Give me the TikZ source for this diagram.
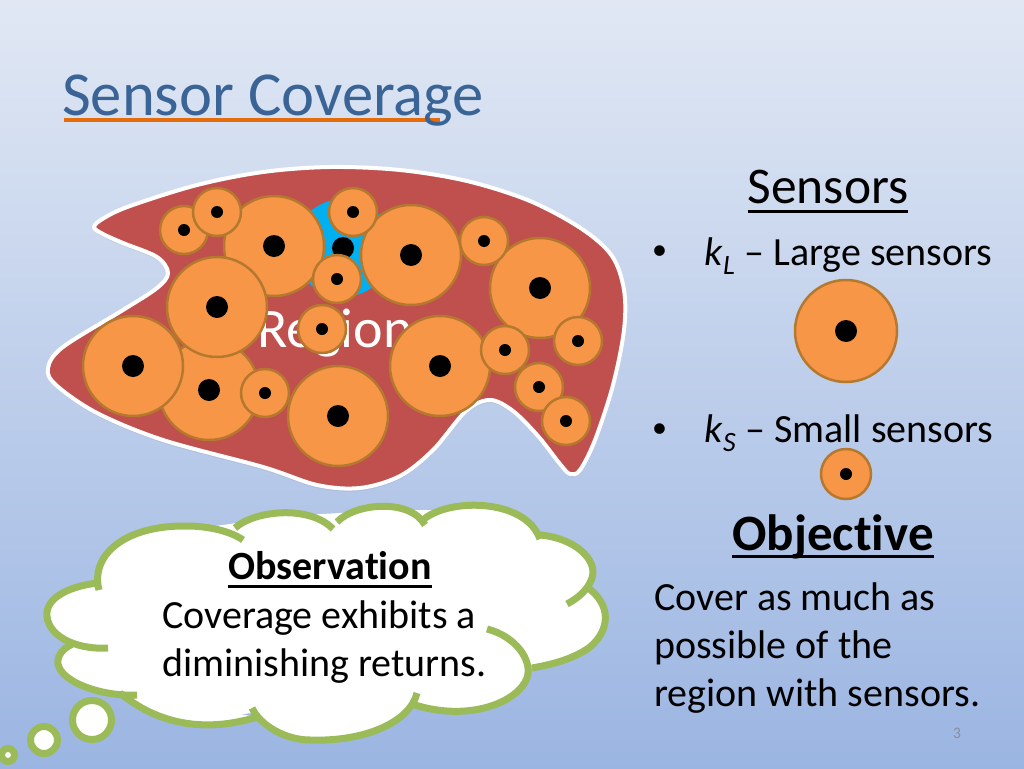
\documentclass[tikz,border=0pt]{standalone}
\usepackage{fontspec}
\setmainfont{Carlito}[Ligatures=NoCommon]
\usetikzlibrary{positioning}
\newcommand{\rulebelow}[2]{\vtop{\hbox{\smash{#2}}\kern#1\hrule height 2.8pt}}
\definecolor{bgtop}{HTML}{E1E8F4}
\definecolor{bgbottom}{HTML}{9BB5E2}
\definecolor{titleblue}{HTML}{3A6496}
\definecolor{titleline}{HTML}{E46C0A}
\definecolor{regionred}{HTML}{C0504D}
\definecolor{sensorfill}{HTML}{F79646}
\definecolor{sensorline}{HTML}{B5782F}
\definecolor{hiddenblue}{HTML}{00B0F0}
\definecolor{cloudgreen}{HTML}{9BBB59}

\begin{document}
\begin{tikzpicture}
	[x=1pt,y=-1pt,
	largesensor/.style={circle,draw=sensorline,fill=sensorfill,line width=2.5pt,inner sep=0pt,minimum size=100pt,
		label={[circle,fill=black,inner sep=0pt,minimum size=22pt]center:{}}},
	smallsensor/.style={circle,draw=sensorline,fill=sensorfill,line width=2.5pt,inner sep=0pt,minimum size=48pt,
		label={[circle,fill=black,inner sep=0pt,minimum size=12pt]center:{}}},
	bubblestyle/.style={circle,draw=cloudgreen,fill=white,line width=7pt,inner sep=0pt},
	bodytext/.style={inner sep=0pt,anchor=base west,font=\fontsize{40}{48}\selectfont,align=left,text=black},
	bulletstyle/.style={inner sep=0pt,anchor=base west,font=\fontsize{30}{48}\selectfont}
	]
	
	%Set params
	\def\gapbullet{37pt}
	\def\regionpath{plot[smooth cycle,tension=0.55] coordinates {
		(94,227) (104,218) (130,206) (197,185) (263,172) (330,167) (400,170) (467,181) (530,201) (582,229)
		(612,256) (624,290) (624,330) (613,385) (595,440) (580,470) (570,474) (560,464) (538,436)
		(513,411) (490,400) (466,411) (433,450) (400,476) (360,488) (317,485) (263,467) (163,440)
		(97,413) (56,385) (48,368) (63,347) (123,310) (157,288) (168,273) (157,257) (123,243) (103,234)}}
	\def\cloudpath{
		(99,590) .. controls (90,555) and (125,525) .. (187,526) .. controls (210,526) and (232,532) .. (243,540)
		(235,528) .. controls (255,510) and (310,505) .. (333,529)
		(337,522) .. controls (355,503) and (410,498) .. (425,525)
		(422,521) .. controls (445,498) and (525,497) .. (540,539)
		(540,535) .. controls (575,538) and (598,560) .. (592,578) .. controls (588,590) and (578,598) .. (567,604)
		(587,587) .. controls (612,605) and (610,630) .. (590,647) .. controls (575,658) and (555,664) .. (532,668)
		(487,629) .. controls (515,636) and (533,660) .. (527,678) .. controls (518,702) and (470,722) .. (415,705)
		(417,693) .. controls (410,722) and (365,742) .. (310,740) .. controls (285,740) and (260,725) .. (252,708)
		(257,717) .. controls (215,730) and (165,730) .. (120,693)
		(137,695) .. controls (100,697) and (55,680) .. (58,660) .. controls (59,652) and (67,646) .. (75,643)
		(108,648) .. controls (75,650) and (45,635) .. (47,612) .. controls (49,595) and (75,585) .. (99,583)}
	
	\useasboundingbox (0,0) rectangle (1024,768);
	\shade[top color=bgtop,bottom color=bgbottom] (0,0) rectangle (1024,768);
	
	%Title
	\coordinate (TitleStart) at (64,120);
	\coordinate (TitleEnd) at (440,120);
	\draw[titleline,line width=3.5pt] (TitleStart) -- (TitleEnd);
	\node(Title)[inner sep=0pt,anchor=base west,text=titleblue,font=\fontsize{62.6}{70}\selectfont] at (62,115) {Sensor Coverage};
	
	%Region
	\fill[black,opacity=0.06,yshift=-3pt] \regionpath;
	\draw[draw=white,fill=regionred,line width=4pt] \regionpath;
	\node(Hidden)[circle,fill=hiddenblue,inner sep=0pt,minimum size=98pt,
		label={[circle,fill=black,inner sep=0pt,minimum size=22pt]center:{}}] at (343,248) {};
	\node(Region)[text=white,inner sep=0pt,anchor=base,font=\fontsize{56}{60}\selectfont] at (335,347) {Region};
	
	%Large sensors
	\node(LargeA)[largesensor] at (274,246) {};
	\node(LargeB)[largesensor] at (209,390) {};
	\node(LargeC)[largesensor] at (133,366) {};
	\node(LargeD)[largesensor] at (217,307) {};
	\node(LargeE)[largesensor] at (338,416) {};
	\node(LargeF)[largesensor] at (411,255) {};
	\node(LargeG)[largesensor] at (540,288) {};
	\node(LargeH)[largesensor] at (440,366) {};
	
	%Small sensors
	\node(SmallA)[smallsensor] at (184,230) {};
	\node(SmallB)[smallsensor] at (217,212) {};
	\node(SmallC)[smallsensor] at (353,212) {};
	\node(SmallD)[smallsensor] at (337,279) {};
	\node(SmallE)[smallsensor] at (322,329) {};
	\node(SmallF)[smallsensor] at (484,241) {};
	\node(SmallG)[smallsensor] at (265,393) {};
	\node(SmallH)[smallsensor] at (505,350) {};
	\node(SmallI)[smallsensor] at (578,341) {};
	\node(SmallJ)[smallsensor] at (539,387) {};
	\node(SmallK)[smallsensor] at (566,421) {};
	
	%Legend
	\node(Sensors)[inner sep=0pt,anchor=base,font=\fontsize{51.5}{54}\selectfont] at (828,203) {\rulebelow{7pt}{Sensors}};
	\node(LargeBullet)[bulletstyle] at (652,259) {•};
	\node(LargeText)[bodytext,right = \gapbullet of LargeBullet.base east,anchor=base west,yshift=-6pt] {\textit{k}\textsubscript{\textit{L}} – Large sensors};
	\node(LargeKey)[largesensor,minimum size=102pt] at (846,331) {};
	\node(SmallBullet)[bulletstyle] at (652,437) {•};
	\node(SmallText)[bodytext,right = \gapbullet of SmallBullet.base east,anchor=base west,yshift=-5pt] {\textit{k}\textsubscript{\textit{S}} – Small sensors};
	\node(SmallKey)[smallsensor,minimum size=50pt] at (846,474) {};
	\node(Objective)[inner sep=0pt,anchor=base,font=\bfseries\fontsize{51}{54}\selectfont] at (833,550) {\rulebelow{5pt}{Objective}};
	\node(Cover)[bodytext] at (654,706) {Cover as much as\\possible of the\\region with sensors.};
	\node(PageNum)[inner sep=0pt,text=gray!70!bgbottom,font=\fontsize{16}{18}\selectfont] at (957,733) {3};
	
	%Cloud
	\fill[white] \cloudpath;
	\fill[white] (99,590) -- (187,530) -- (287,516) -- (393,510) -- (477,510) -- (540,537) -- (590,587) -- (532,668)
		-- (440,704) -- (415,702) -- (310,736) -- (258,712) -- (190,722) -- (130,695) -- (75,643) -- cycle;
	\draw[cloudgreen,line width=7pt] \cloudpath;
	
	\node(BubbleA)[bubblestyle,minimum size=39pt] at (92,720) {};
	\node(BubbleB)[bubblestyle,minimum size=27pt] at (44,740) {};
	\node(BubbleC)[bubblestyle,minimum size=13pt] at (8,755) {};
	
	\node(Observation)[inner sep=0pt,anchor=base,font=\bfseries\fontsize{40}{44}\selectfont] at (330,579) {\rulebelow{6pt}{Observation}};
	\node(ObsText)[bodytext] at (162,676) {Coverage exhibits a\\diminishing returns.};
	
\end{tikzpicture}
\end{document}
